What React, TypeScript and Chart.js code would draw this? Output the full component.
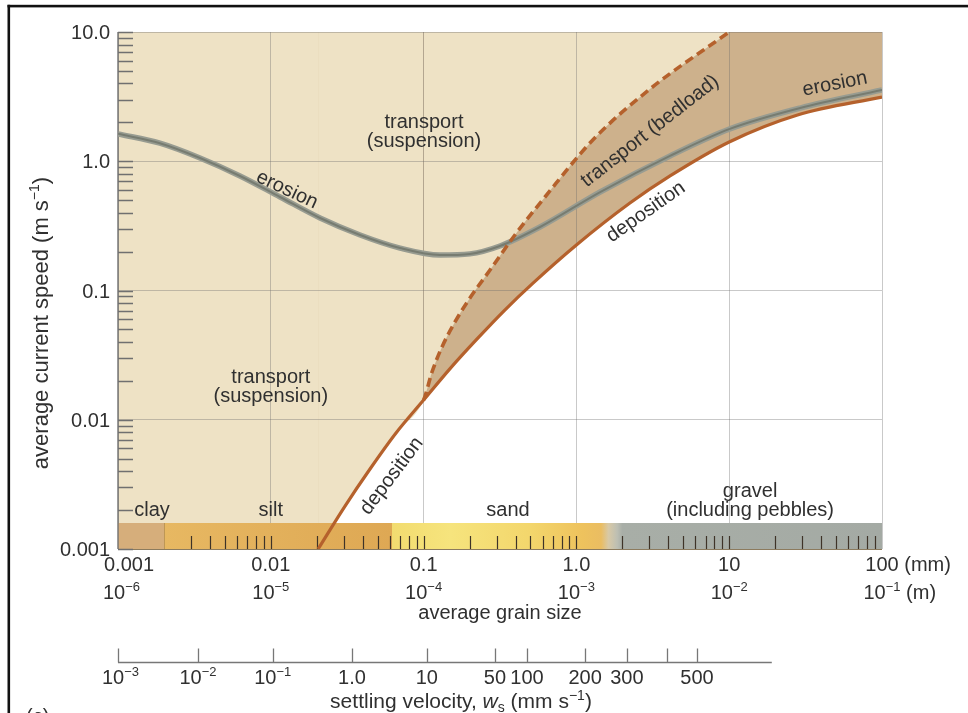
import React, { useEffect, useRef } from 'react';
import { Chart, registerables } from 'chart.js';

// ---------------- data ----------------
const grainTicksMm = [0.001, 0.01, 0.1, 1, 10, 100];
const grainTickLabelsMm = ['0.001', '0.01', '0.1', '1.0', '10', '100'];
const grainTickExpM = ['−6', '−5', '−4', '−3', '−2', '−1'];
const speedTicks = [0.001, 0.01, 0.1, 1, 10];
const speedTickLabels = ['0.001', '0.01', '0.1', '1.0', '10.0'];

const erosionGrain = [0.001, 0.00188, 0.00344, 0.00629, 0.0115, 0.021, 0.0384, 0.0701, 0.128, 0.201, 0.316, 0.578, 1.43, 4.1, 10.1, 29.1, 100];
const erosionSpeed = [1.63, 1.38, 1.06, 0.769, 0.529, 0.364, 0.269, 0.213, 0.188, 0.192, 0.221, 0.31, 0.578, 1.1, 1.78, 2.58, 3.56];

const depositionGrain = [0.0204, 0.0306, 0.0446, 0.066, 0.1, 0.15, 0.224, 0.34, 0.52, 1.0, 2.24, 4.1, 10, 28, 100];
const depositionSpeed = [0.001, 0.00215, 0.00416, 0.0079, 0.0142, 0.0251, 0.0422, 0.0706, 0.114, 0.225, 0.475, 0.77, 1.41, 2.28, 3.14];

const bedloadLimitGrain = [0.1, 0.1135, 0.132, 0.1605, 0.201, 0.272, 0.396, 0.623, 1.28, 3.03, 10];
const bedloadLimitSpeed = [0.0142, 0.0234, 0.0366, 0.0571, 0.0875, 0.144, 0.269, 0.529, 1.46, 3.62, 10];

// grain-size classes: clay | silt | sand | gravel
const grainClassBounds = [0.001, 0.002, 0.0625, 2, 100];

const settlingTickBase = ['10', '10', '10', '1.0', '10', '50', '100', '200', '300', '', '500'];
const settlingTickExp = ['−3', '−2', '−1', '', '', '', '', '', '', '', ''];
const settlingTickGrainMm = [0.001, 0.00334, 0.0103, 0.034, 0.105, 0.293, 0.475, 1.14, 2.14, 3.92, 6.15];
const settlingAxisEndGrainMm = 19;

const labelLines = [
  ['transport', '(suspension)'],
  ['transport', '(suspension)'],
  ['clay'],
  ['silt'],
  ['sand'],
  ['gravel', '(including pebbles)'],
  ['erosion'],
  ['transport (bedload)'],
  ['deposition'],
  ['erosion'],
  ['deposition'],
];
const labelGrain = [0.1006, 0.01, 0.00167, 0.01, 0.357, 13.7, 0.01276, 3.03, 2.85, 49.2, 0.062];
const labelSpeed = [1.68, 0.0179, 0.002, 0.002, 0.002, 0.00235, 0.6, 1.71, 0.405, 3.96, 0.00367];
const labelAngle = [0, 0, 0, 0, 0, 0, 25, -38, -35, -11, -53];

// ---------------- styles ----------------
const FONT = '"Liberation Sans", Arial, Helvetica, sans-serif';
const TEXT = '#303030';
const SUSP_FILL = '#EEE2C5';
const BEDLOAD_FILL = '#CDB18C';
const LINE_BROWN = '#B5612C';
const GRID = 'rgba(105,105,105,0.36)';
const FS = 20;
const BAR_H = 26;

type Run = { t: string; s: number; dy?: number; it?: boolean };
const fontOf = (r: Run) => `${r.it ? 'italic ' : ''}${r.s}px ${FONT}`;
const sup = (base: string, exp: string, s = FS): Run[] =>
  exp ? [{ t: base, s }, { t: exp, s: Math.round(s * 0.66), dy: -s * 0.38 }] : [{ t: base, s }];

function runsWidth(ctx: CanvasRenderingContext2D, runs: Run[]) {
  let w = 0;
  for (const r of runs) {
    ctx.font = fontOf(r);
    w += ctx.measureText(r.t).width;
  }
  return w;
}
function drawRunsAt(ctx: CanvasRenderingContext2D, runs: Run[], left: number, baseline: number) {
  let cx = left;
  ctx.textAlign = 'left';
  ctx.textBaseline = 'alphabetic';
  for (const r of runs) {
    ctx.font = fontOf(r);
    ctx.fillText(r.t, cx, baseline + (r.dy || 0));
    cx += ctx.measureText(r.t).width;
  }
}
// anchor runs centred at cx (clamped on the left), suffix runs appended
function drawTickLabel(ctx: CanvasRenderingContext2D, anchor: Run[], suffix: Run[], cx: number, baseline: number, minLeft: number) {
  const w = runsWidth(ctx, anchor);
  const left = Math.max(cx - w / 2, minLeft);
  drawRunsAt(ctx, anchor.concat(suffix), left, baseline);
}

const bgPlugin = {
  id: 'hjulstromBackground',
  beforeDraw(chart: any) {
    const { ctx, chartArea: a, scales } = chart;
    if (!a || !scales.x) return;
    ctx.save();
    ctx.fillStyle = BEDLOAD_FILL;
    ctx.fillRect(a.left, a.top, a.right - a.left, a.bottom - a.top);
    const xd = scales.x.getPixelForValue(depositionGrain[0]);
    ctx.fillStyle = SUSP_FILL;
    ctx.fillRect(a.left, a.top, xd - a.left + 0.5, a.bottom - a.top);
    ctx.restore();
  },
};
Chart.register(bgPlugin);
Chart.register(...registerables);

const overlayPlugin = {
  id: 'hjulstromOverlay',
  beforeDatasetsDraw(chart: any) {
    const { ctx, chartArea: a, scales } = chart;
    const xs = scales.x;
    const ys = scales.y;
    const top = a.bottom - BAR_H;
    ctx.save();
    // grain-size bar
    const grad = ctx.createLinearGradient(a.left, 0, a.right, 0);
    const f = (g: number) => Math.min(1, Math.max(0, (xs.getPixelForValue(g) - a.left) / (a.right - a.left)));
    const [b0, b1, b2, b3, b4] = grainClassBounds;
    const stops: [number, string][] = [
      [b0, '#D6AE7B'], [b1, '#D6AE7B'], [b1, '#E7B862'], [b2, '#DEA854'], [b2, '#F2DC70'],
      [0.15, '#F6E47D'], [0.5, '#F3D66C'], [1.1, '#EEC25D'], [1.45, '#EABD62'], [1.62, '#D8C9A6'],
      [1.85, '#BDBFB3'], [b3, '#A8AEA7'], [b4, '#A4AAA4'],
    ];
    for (const [g, c] of stops) grad.addColorStop(f(g), c);
    ctx.fillStyle = grad;
    ctx.fillRect(a.left, top, a.right - a.left, BAR_H);
    // clay boundary
    ctx.strokeStyle = 'rgba(140,110,70,0.45)';
    ctx.lineWidth = 1;
    const xc = Math.round(xs.getPixelForValue(b1)) + 0.5;
    ctx.beginPath(); ctx.moveTo(xc, top); ctx.lineTo(xc, a.bottom); ctx.stroke();
    // ticks inside bar
    ctx.strokeStyle = '#3E3328';
    ctx.lineWidth = 1.2;
    ctx.beginPath();
    for (let d = 0.001; d < 99; d *= 10) {
      for (let m = 1; m <= 9; m++) {
        const v = m * d;
        if (v <= b1 * 1.0001) continue;
        const x = Math.round(xs.getPixelForValue(v)) + 0.5;
        ctx.moveTo(x, a.bottom); ctx.lineTo(x, a.bottom - 13);
      }
    }
    ctx.stroke();
    // bottom edge
    ctx.strokeStyle = '#8C7B5E';
    ctx.lineWidth = 1.2;
    ctx.beginPath(); ctx.moveTo(a.left, a.bottom + 0.5); ctx.lineTo(a.right, a.bottom + 0.5); ctx.stroke();
    // left axis line + minor ticks
    ctx.strokeStyle = '#707070';
    ctx.lineWidth = 1.4;
    ctx.beginPath(); ctx.moveTo(a.left, a.top); ctx.lineTo(a.left, a.bottom); ctx.stroke();
    ctx.lineWidth = 1.3;
    ctx.beginPath();
    for (let d = 0.001; d < 11; d *= 10) {
      for (let m = 1; m <= 9; m++) {
        const v = m * d;
        if (v > 10.0001) break;
        const y = Math.round(ys.getPixelForValue(v)) + 0.5;
        ctx.moveTo(a.left, y); ctx.lineTo(a.left + 15, y);
        if (d >= 10) break;
      }
    }
    ctx.stroke();
    ctx.restore();
  },
  afterDatasetsDraw(chart: any) {
    const { ctx, scales } = chart;
    ctx.save();
    ctx.fillStyle = TEXT;
    ctx.font = `${FS}px ${FONT}`;
    ctx.textAlign = 'center';
    ctx.textBaseline = 'middle';
    labelLines.forEach((lines, i) => {
      const x = scales.x.getPixelForValue(labelGrain[i]);
      const y = scales.y.getPixelForValue(labelSpeed[i]);
      ctx.save();
      ctx.translate(x, y);
      ctx.rotate((labelAngle[i] * Math.PI) / 180);
      const lh = 19;
      lines.forEach((t, k) => ctx.fillText(t, 0, (k - (lines.length - 1) / 2) * lh));
      ctx.restore();
    });
    ctx.restore();
  },
  afterDraw(chart: any) {
    const { ctx, chartArea: a, scales } = chart;
    const xs = scales.x;
    const ys = scales.y;
    ctx.save();
    ctx.fillStyle = TEXT;
    // y tick labels
    speedTicks.forEach((v, i) => {
      ctx.font = `${FS}px ${FONT}`;
      ctx.textAlign = 'right';
      ctx.textBaseline = 'alphabetic';
      ctx.fillText(speedTickLabels[i], a.left - 8, ys.getPixelForValue(v) + 7);
    });
    // x tick labels (mm and m rows)
    grainTicksMm.forEach((v, i) => {
      const cx = xs.getPixelForValue(v);
      const last = i === grainTicksMm.length - 1;
      drawTickLabel(ctx, [{ t: grainTickLabelsMm[i], s: FS }], last ? [{ t: ' (mm)', s: FS }] : [], cx, a.bottom + 22, a.left - 14);
      drawTickLabel(ctx, sup('10', grainTickExpM[i]), last ? [{ t: ' (m)', s: FS }] : [], cx, a.bottom + 50, a.left - 15);
    });
    // x title
    {
      const runs: Run[] = [{ t: 'average grain size', s: FS }];
      const w = runsWidth(ctx, runs);
      drawRunsAt(ctx, runs, (a.left + a.right) / 2 - w / 2, a.bottom + 70);
    }
    // settling velocity axis
    const ay = a.bottom + 113.5;
    ctx.strokeStyle = '#777777';
    ctx.lineWidth = 1.3;
    ctx.beginPath();
    ctx.moveTo(xs.getPixelForValue(settlingTickGrainMm[0]), ay);
    ctx.lineTo(xs.getPixelForValue(settlingAxisEndGrainMm), ay);
    settlingTickGrainMm.forEach((g) => {
      const x = Math.round(xs.getPixelForValue(g)) + 0.5;
      ctx.moveTo(x, ay); ctx.lineTo(x, ay - 14);
    });
    ctx.stroke();
    settlingTickGrainMm.forEach((g, i) => {
      if (!settlingTickBase[i]) return;
      drawTickLabel(ctx, sup(settlingTickBase[i], settlingTickExp[i]), [], xs.getPixelForValue(g), ay + 21, a.left - 16);
    });
    {
      const runs: Run[] = [
        { t: 'settling velocity, ', s: 21 },
        { t: 'w', s: 21, it: true },
        { t: 's', s: 14, dy: 4 },
        { t: ' (mm s', s: 21 },
        { t: '−1', s: 14, dy: -8 },
        { t: ')', s: 21 },
      ];
      const w = runsWidth(ctx, runs);
      drawRunsAt(ctx, runs, 461 - w / 2, ay + 45);
    }
    // y title
    {
      const runs: Run[] = [
        { t: 'average current speed (m s', s: 22 },
        { t: '−1', s: 14, dy: -9 },
        { t: ')', s: 22 },
      ];
      const w = runsWidth(ctx, runs);
      ctx.save();
      ctx.translate(40, 323);
      ctx.rotate(-Math.PI / 2);
      drawRunsAt(ctx, runs, -w / 2, 8);
      ctx.restore();
    }
    // frame of the original figure
    ctx.fillStyle = '#111111';
    ctx.fillRect(7.5, 4.8, chart.width - 7.5, 2.6);
    ctx.fillRect(7.5, 4.8, 2.6, chart.height - 4.8);
    ctx.fillStyle = TEXT;
    ctx.font = `${FS}px ${FONT}`;
    ctx.textAlign = 'left';
    ctx.textBaseline = 'alphabetic';
    ctx.fillText('(c)', 26, 723);
    ctx.restore();
  },
};

export default function App() {
  const ref = useRef<HTMLCanvasElement | null>(null);
  useEffect(() => {
    document.body.style.margin = '0';
    const canvas = ref.current;
    if (!canvas) return;
    const prefix = depositionGrain.filter((g) => g < bedloadLimitGrain[0]).length;
    const upperData = depositionGrain
      .slice(0, prefix)
      .map((g, i) => ({ x: g, y: depositionSpeed[i] }))
      .concat(bedloadLimitGrain.map((g, i) => ({ x: g, y: bedloadLimitSpeed[i] })));
    const depData = depositionGrain.map((g, i) => ({ x: g, y: depositionSpeed[i] }));
    const eroData = erosionGrain.map((g, i) => ({ x: g, y: erosionSpeed[i] }));

    const chart = new Chart(canvas, {
      type: 'line',
      data: {
        datasets: [
          {
            label: 'bedload limit',
            data: upperData,
            borderColor: LINE_BROWN,
            borderWidth: 3.6,
            borderDash: [9, 5],
            backgroundColor: SUSP_FILL,
            fill: 'end',
            segment: {
              borderColor: (c: any) => (c.p0DataIndex < prefix ? 'rgba(0,0,0,0)' : LINE_BROWN),
            },
          },
          {
            label: 'deposition',
            data: depData,
            borderColor: LINE_BROWN,
            borderWidth: 3.2,
            backgroundColor: '#FFFFFF',
            fill: 'start',
          },
          {
            label: 'erosion core',
            data: eroData,
            borderColor: '#777C71',
            borderWidth: 2,
            fill: false,
          },
          {
            label: 'erosion',
            data: eroData,
            borderColor: '#989C91',
            borderWidth: 5.5,
            fill: false,
          },
        ],
      } as any,
      options: {
        animation: false,
        responsive: false,
        devicePixelRatio: 1,
        layout: { padding: { left: 118, right: 86, top: 32, bottom: 164 } },
        elements: {
          point: { radius: 0, hoverRadius: 0 },
          line: { cubicInterpolationMode: 'monotone' },
        },
        events: [],
        scales: {
          x: {
            type: 'logarithmic',
            min: 0.001,
            max: 100,
            afterBuildTicks: (s: any) => {
              s.ticks = grainTicksMm.map((v) => ({ value: v }));
            },
            ticks: { display: false },
            grid: { color: GRID, lineWidth: 1, drawTicks: false },
            border: { display: false },
          },
          y: {
            type: 'logarithmic',
            min: 0.001,
            max: 10,
            afterBuildTicks: (s: any) => {
              s.ticks = speedTicks.map((v) => ({ value: v }));
            },
            ticks: { display: false },
            grid: { color: GRID, lineWidth: 1, drawTicks: false },
            border: { display: false },
          },
        },
        plugins: {
          legend: { display: false },
          tooltip: { enabled: false },
          filler: { drawTime: 'beforeDraw', propagate: false },
        },
      } as any,
      plugins: [overlayPlugin],
    });
    return () => chart.destroy();
  }, []);
  return <canvas ref={ref} width={968} height={713} style={{ display: 'block' }} />;
}
